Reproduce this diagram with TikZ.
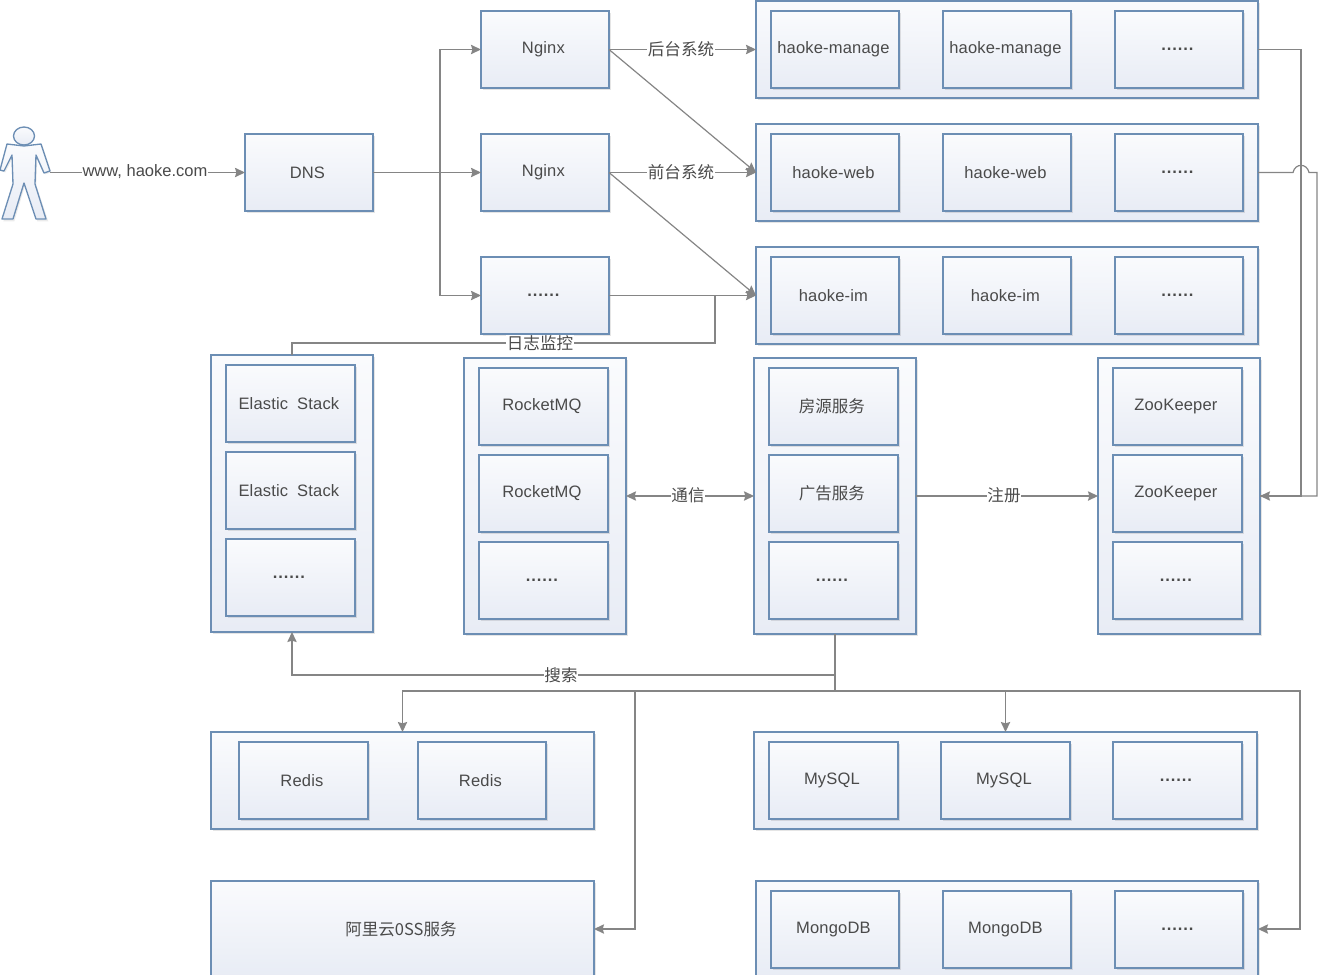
\documentclass[tikz,border=0pt]{standalone}
\usepackage{fontspec}
\setmainfont[LetterSpace=1,WordSpace=1.9]{Liberation Sans}
\newfontfamily\plainf{Liberation Sans}
\newfontfamily\cjk{Noto Sans CJK SC}
\usetikzlibrary{arrows.meta,shadows,calc}
\definecolor{edgeblue}{HTML}{6C8EB4}
\definecolor{fillTop}{HTML}{FAFBFD}
\definecolor{fillBot}{HTML}{E8ECF5}
\definecolor{connGray}{HTML}{858585}
\definecolor{txtGray}{HTML}{4A4A4A}
\tikzset{
  x=0.75pt,y=-0.75pt,
  basebox/.style={draw=edgeblue,line width=1pt,top color=fillTop,bottom color=fillBot,
    outer sep=0pt,inner sep=0pt,text=txtGray,font=\fontsize{12.4}{14}\selectfont,
    drop shadow={shadow xshift=1.5pt,shadow yshift=-1.5pt,fill=black,opacity=.10}},
  conn/.style={draw=connGray,line width=0.9pt},
  arr/.style={conn,-{Stealth[length=7.5pt,width=7pt,inset=1pt]}},
  arrb/.style={conn,{Stealth[length=7.5pt,width=7pt,inset=1pt]}-{Stealth[length=7.5pt,width=7pt,inset=1pt]}},
  lbl/.style={fill=white,inner sep=0.5pt,text=txtGray,font=\fontsize{12.4}{14}\selectfont},
}
\newcommand{\bx}[6]{%
  \pgfmathsetmacro\bw{(#4-#2)*0.75}\pgfmathsetmacro\bh{(#5-#3)*0.75}%
  \pgfmathsetmacro\cxx{(#2+#4)/2}\pgfmathsetmacro\cyy{(#3+#5)/2}%
  \node[basebox,minimum width=\bw pt,minimum height=\bh pt] (#1) at (\cxx,\cyy) {#6\kern2.4pt};}
\newcommand{\dotsT}{\bfseries.\kern0.7pt.\kern0.7pt.\kern0.7pt.\kern0.7pt.\kern0.7pt.}
\begin{document}
\begin{tikzpicture}
\useasboundingbox (0,0) rectangle (1330,974);

% person
\node[inner sep=0pt,outer sep=0pt,minimum width=37.5pt,minimum height=70pt] (person) at (25,173) {};
\begin{scope}
\fill[black,opacity=.08,xshift=1pt,yshift=-1pt] (7,144) -- (41,144) -- (50,171) -- (44,173) -- (36,155) -- (35,184) -- (47,220) -- (36,220) -- (24,183) -- (13,220) -- (2,220) -- (13,184) -- (12,155) -- (4,171) -- (0,170) -- cycle;
\draw[edgeblue,line width=1pt,top color=fillTop,bottom color=fillBot,line join=round]
  (7,144) -- (24,146) -- (41,144) -- (50,171) -- (44,173) -- (36,155) -- (35,184) -- (46,219) -- (36,219) -- (24,183) -- (13,219) -- (2,219) -- (13,184) -- (12,155) -- (4,171) -- (0,170) -- cycle;
\draw[edgeblue,line width=1pt,top color=fillTop,bottom color=fillBot] (24,136) ellipse [x radius=10.5,y radius=9];
\end{scope}

% front row
\bx{dns}{245}{134}{373}{211}{DNS}
\bx{ngA}{481}{11}{609}{88}{Nginx}
\bx{ngB}{481}{134}{609}{211}{Nginx}
\bx{ngC}{481}{257}{609}{334}{\dotsT}

% app groups
\bx{gA}{756}{1}{1258}{98}{}
\bx{gB}{756}{124}{1258}{221}{}
\bx{gC}{756}{247}{1258}{344}{}
\bx{gAa}{771}{11}{899}{88}{haoke-manage}
\bx{gAb}{943}{11}{1071}{88}{haoke-manage}
\bx{gAc}{1115}{11}{1243}{88}{\dotsT}
\bx{gBa}{771}{134}{899}{211}{haoke-web}
\bx{gBb}{943}{134}{1071}{211}{haoke-web}
\bx{gBc}{1115}{134}{1243}{211}{\dotsT}
\bx{gCa}{771}{257}{899}{334}{haoke-im}
\bx{gCb}{943}{257}{1071}{334}{haoke-im}
\bx{gCc}{1115}{257}{1243}{334}{\dotsT}

% middle columns
\bx{es}{211}{355}{373}{632}{}
\bx{esa}{226}{365}{355}{442}{Elastic Stack}
\bx{esb}{226}{452}{355}{529}{Elastic Stack}
\bx{esc}{226}{539}{355}{616}{\dotsT}
\bx{mq}{464}{358}{626}{634}{}
\bx{mqa}{479}{368}{608}{445}{RocketMQ}
\bx{mqb}{479}{455}{608}{532}{RocketMQ}
\bx{mqc}{479}{542}{608}{619}{\dotsT}
\bx{sv}{754}{358}{916}{634}{}
\bx{sva}{769}{368}{898}{445}{\cjk 房源服务}
\bx{svb}{769}{455}{898}{532}{\cjk 广告服务}
\bx{svc}{769}{542}{898}{619}{\dotsT}
\bx{zk}{1098}{358}{1260}{634}{}
\bx{zka}{1113}{368}{1242}{445}{ZooKeeper}
\bx{zkb}{1113}{455}{1242}{532}{ZooKeeper}
\bx{zkc}{1113}{542}{1242}{619}{\dotsT}

% storage
\bx{rd}{211}{732}{594}{829}{}
\bx{rda}{239}{742}{368}{819}{Redis}
\bx{rdb}{418}{742}{546}{819}{Redis}
\bx{my}{754}{732}{1257}{829}{}
\bx{mya}{769}{742}{898}{819}{MySQL}
\bx{myb}{941}{742}{1070}{819}{MySQL}
\bx{myc}{1113}{742}{1242}{819}{\dotsT}
\bx{oss}{211}{881}{594}{977}{\cjk 阿里云0SS服务}
\bx{mg}{756}{881}{1258}{977}{}
\bx{mga}{771}{891}{899}{968}{MongoDB}
\bx{mgb}{943}{891}{1071}{968}{MongoDB}
\bx{mgc}{1115}{891}{1243}{968}{\dotsT}

% junction points
\coordinate (jDns) at (440,172.5);
\coordinate (jLog) at (715,295.5);
\coordinate (jLogB) at (715,343);
\coordinate (jLogC) at (292,343);
\coordinate (rA) at (1301,49.5);
\coordinate (rB) at (1317,172.5);
\coordinate (bumpL) at (1293,172.5);
\coordinate (bumpR) at (1309,172.5);
\coordinate (jSearch) at (835,675);
\coordinate (jSearchL) at (292,675);
\coordinate (jStore) at (835,691);
\coordinate (jRedis) at (402.5,691);
\coordinate (jOss) at (635,691);
\coordinate (jMy) at (1005.5,691);
\coordinate (jMg) at (1300,691);

% connectors
\draw[arr] (person.east |- dns.west) -- (dns.west);
\draw[arr] (dns.east) -- (ngB.west);
\draw[arr] (jDns) |- (ngA.west);
\draw[arr] (jDns) |- (ngC.west);
\draw[arr] (ngA.east) -- (gA.west);
\draw[arr] (ngA.east) -- (gB.west);
\draw[arr] (ngB.east) -- (gB.west);
\draw[arr] (ngB.east) -- (gC.west);
\draw[arr] (ngC.east) -- (gC.west);
\draw[conn] (jLog) -- (jLogB) -- (jLogC) -- (es.north);
\draw[conn] (gA.east) -- (rA) -- (rA |- zk.east) -- (zk.east);
\draw[arr] (gB.east) -- (bumpL) .. controls (1295,163) and (1307,163) .. (bumpR) -- (rB) -- (rB |- zk.east) -- (zk.east);
\draw[arrb] (mq.east) -- (sv.west);
\draw[arr] (sv.east) -- (zk.west);
\draw[conn] (sv.south) -- (jStore);
\draw[arr] (jSearch) -- (jSearchL) -- (es.south);
\draw[arr] (jStore) -- (jRedis) -- (rd.north);
\draw[arr] (jStore) -- (jMy) -- (my.north);
\draw[arr] (jOss) -- (jOss |- oss.east) -- (oss.east);
\draw[arr] (jMy) -- (jMg) -- (jMg |- mg.east) -- (mg.east);

% labels
\node[lbl] (lWww) at (145,171.5) {\plainf www, haoke.com};
\node[lbl] (lHou) at (681,49) {\cjk 后台系统};
\node[lbl] (lQian) at (681,172) {\cjk 前台系统};
\node[lbl] (lLog) at (540,343) {\cjk 日志监控};
\node[lbl] (lTong) at (688,495.5) {\cjk 通信};
\node[lbl] (lReg) at (1004,495.5) {\cjk 注册};
\node[lbl] (lSearch) at (561,675) {\cjk 搜索};
\end{tikzpicture}
\end{document}
